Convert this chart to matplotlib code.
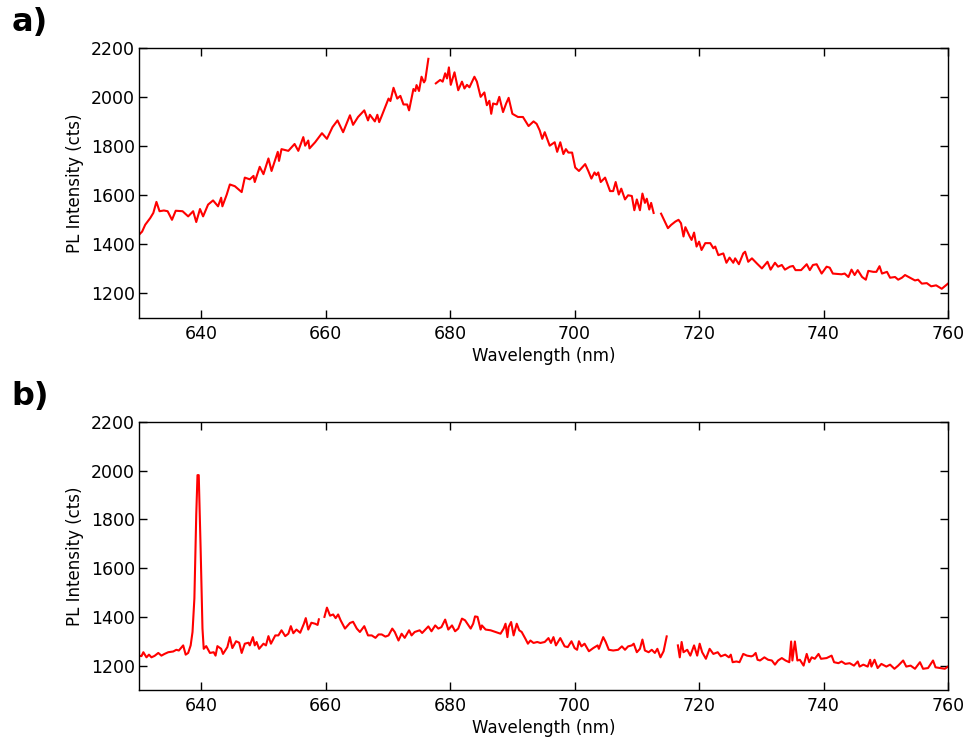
import numpy as np
import matplotlib
matplotlib.use("Agg")
import matplotlib.pyplot as plt

nan = np.nan

# panel a) spectrum (gaps are NaN)
wl_a = [630.0, 630.5, 631.0, 631.8, 632.3, 632.8, 633.3, 634.0, 634.6, 635.3, 635.9, 637.0, 637.9,
        638.7, 639.2, 639.8, 640.3, 641.1, 641.9, 642.7, 643.2, 643.4, 644.1, 644.6, 645.4, 646.5,
        647.0, 647.8, 648.4, 648.6, 649.4, 650.0, 650.8, 651.3, 652.3, 652.5, 652.9, 654.0, 655.0,
        655.6, 656.4, 656.7, 657.2, 657.4, 658.3, 659.4, 660.2, 661.1, 661.9, 662.8, 663.9, 664.4,
        665.2, 666.2, 666.8, 667.1, 667.9, 668.3, 668.6, 669.0, 670.1, 670.4, 670.9, 671.5, 672.0,
        672.5, 673.1, 673.4, 674.1, 674.4, 674.6, 675.0, 675.4, 675.8, 676.0, 676.5, 677.1,
        677.7, 678.4, 678.8, 679.2, 679.5, 679.8, 680.1, 680.7, 681.3, 681.9, 682.3, 682.7, 683.1,
        683.9, 684.3, 684.9, 685.5, 685.9, 686.3, 686.6, 686.9, 687.5, 687.9, 688.5, 689.0, 689.4,
        690.0, 690.9, 691.7, 692.6, 693.4, 693.9, 694.4, 694.8, 695.2, 696.0, 696.8, 697.2, 697.7,
        698.2, 698.6, 699.0, 699.6, 700.1, 700.7, 701.7, 702.2, 702.7, 703.2, 703.5, 703.8, 704.2,
        704.9, 705.7, 706.2, 706.6, 707.1, 707.5, 708.1, 708.6, 709.2, 709.6, 710.0, 710.5, 710.9,
        711.3, 711.6, 712.0, 712.3, 712.7, 713.3,
        713.9, 714.5, 715.0, 715.5, 716.2, 716.7, 717.1, 717.5, 717.8, 718.5, 718.8, 719.2, 719.6,
        720.0, 720.4, 721.0, 721.8, 722.3, 722.6, 723.1, 723.9, 724.4, 724.9, 725.5, 725.8, 726.4,
        727.1, 727.4, 727.9, 728.5, 729.3, 730.1, 731.0, 731.5, 732.2, 732.7, 733.3, 733.8, 734.6,
        735.1, 735.5, 736.4, 737.3, 737.8, 738.3, 738.9, 739.7, 740.5, 741.0, 741.5, 742.9, 743.4,
        744.0, 744.5, 745.0, 745.5, 746.2, 746.8, 747.2, 748.0, 748.5, 749.0, 749.4, 750.2, 750.7,
        751.5, 752.0, 752.6, 753.1, 753.9, 754.7, 755.2, 755.8, 756.6, 757.3, 758.1, 759.0, 760.0]
pl_a = [1439, 1452, 1480, 1507, 1528, 1573, 1535, 1538, 1535, 1500, 1537, 1535, 1514,
        1535, 1491, 1544, 1514, 1562, 1579, 1555, 1590, 1555, 1603, 1644, 1637, 1613,
        1672, 1665, 1679, 1654, 1716, 1686, 1750, 1699, 1777, 1740, 1788, 1781, 1809,
        1781, 1837, 1802, 1823, 1791, 1816, 1853, 1830, 1878, 1905, 1857, 1926, 1887,
        1919, 1946, 1905, 1928, 1901, 1928, 1898, 1923, 1994, 1984, 2038, 1994, 2005,
        1970, 1970, 1946, 2033, 2025, 2049, 2025, 2083, 2060, 2069, 2156, nan,
        2056, 2070, 2063, 2097, 2076, 2121, 2050, 2101, 2028, 2063, 2035, 2050, 2040,
        2083, 2063, 2001, 2019, 1967, 1985, 1932, 1974, 1970, 2001, 1939, 1974, 1997,
        1932, 1919, 1919, 1882, 1901, 1891, 1864, 1830, 1857, 1802, 1816, 1777, 1816,
        1768, 1788, 1774, 1774, 1713, 1699, 1727, 1699, 1668, 1693, 1682, 1693, 1654,
        1672, 1617, 1617, 1654, 1603, 1627, 1583, 1600, 1597, 1539, 1583, 1539, 1607,
        1569, 1586, 1542, 1569, 1528, nan,
        1525, 1493, 1466, 1479, 1493, 1500, 1486, 1432, 1470, 1432, 1418, 1448, 1391,
        1411, 1377, 1405, 1405, 1384, 1391, 1356, 1363, 1325, 1346, 1325, 1343, 1319,
        1363, 1370, 1329, 1343, 1322, 1302, 1329, 1297, 1325, 1309, 1316, 1297, 1309,
        1312, 1295, 1295, 1319, 1295, 1316, 1319, 1281, 1309, 1305, 1281, 1278, 1281,
        1267, 1297, 1275, 1295, 1267, 1256, 1292, 1288, 1288, 1311, 1281, 1288, 1264,
        1267, 1256, 1264, 1275, 1264, 1253, 1256, 1240, 1242, 1229, 1233, 1219, 1240]

# panel b) spectrum
wl_b = [630.0, 630.4, 630.7, 631.2, 631.6, 632.0, 632.5, 633.1, 633.6, 634.1, 634.7, 635.5, 636.0,
        636.4, 637.1, 637.5, 637.9, 638.3, 638.6, 638.9, 639.2, 639.4, 639.6, 639.9, 640.2, 640.4,
        640.8, 641.4, 642.0, 642.3, 642.6, 643.2, 643.5, 644.2, 644.6, 645.0, 645.6, 646.1, 646.5,
        647.0, 647.6, 647.8, 648.3, 648.6, 648.9, 649.3, 650.0, 650.4, 650.8, 651.2, 651.9, 652.4,
        652.9, 653.5, 654.0, 654.4, 654.8, 655.3, 655.9, 656.5, 656.8, 657.2, 657.7, 658.3, 658.7,
        658.9, 659.4,
        659.8, 660.2, 660.7, 661.2, 661.6, 662.0, 662.4, 663.1, 663.9, 664.4, 665.0, 665.5, 666.2,
        666.8, 667.4, 668.0, 668.5, 669.0, 669.6, 670.1, 670.7, 671.1, 671.7, 672.2, 672.7, 673.4,
        673.8, 674.3, 675.1, 675.5, 676.5, 677.0, 677.6, 678.1, 678.6, 679.2, 679.7, 680.3, 680.8,
        681.3, 681.9, 682.4, 683.3, 683.7, 684.0, 684.4, 684.9, 685.1, 685.7, 686.5, 687.3, 688.1,
        688.6, 688.9, 689.2, 689.4, 689.8, 690.2, 690.7, 691.1, 691.5, 692.1, 692.5, 692.9, 693.4,
        694.0, 694.5, 695.2, 695.8, 696.2, 696.6, 697.0, 697.7, 698.4, 698.9, 699.5, 700.0, 700.4,
        700.7, 701.1, 701.6, 702.3, 703.0, 703.7, 703.9, 704.6, 705.0, 705.5, 706.2, 707.0, 707.6,
        708.1, 708.6, 709.2, 709.5, 710.0, 710.5, 710.9, 711.3, 711.9, 712.4, 712.9, 713.3, 713.8,
        714.3, 714.8, 715.7,
        716.6, 716.9, 717.2, 717.5, 718.1, 718.6, 719.2, 719.7, 720.1, 720.5, 721.1, 721.7, 722.3,
        723.0, 723.5, 724.2, 724.8, 725.1, 725.4, 726.0, 726.5, 727.1, 727.7, 728.4, 728.7, 729.1,
        729.4, 729.8, 730.5, 731.1, 731.7, 732.2, 732.7, 733.3, 733.9, 734.5, 734.8, 735.0, 735.4,
        735.8, 736.2, 736.8, 737.3, 737.7, 738.1, 738.6, 739.2, 739.6, 740.5, 741.3, 741.7, 742.4,
        742.9, 743.5, 744.2, 744.9, 745.5, 745.8, 746.4, 747.1, 747.5, 747.7, 748.2, 748.7, 749.3,
        750.1, 750.7, 751.4, 752.0, 752.8, 753.3, 754.0, 754.7, 755.5, 756.0, 756.8, 757.6, 758.0,
        758.7, 759.5, 760.0]
pl_b = [1241, 1239, 1255, 1234, 1245, 1234, 1240, 1252, 1241, 1248, 1255, 1258, 1265,
        1262, 1283, 1245, 1252, 1283, 1338, 1476, 1820, 1982, 1982, 1682, 1352, 1269,
        1280, 1252, 1255, 1241, 1280, 1269, 1248, 1276, 1317, 1272, 1300, 1294, 1252,
        1290, 1294, 1283, 1317, 1283, 1297, 1269, 1290, 1283, 1321, 1290, 1324, 1324,
        1345, 1321, 1331, 1362, 1333, 1348, 1335, 1372, 1395, 1348, 1376, 1372, 1367,
        1390, nan,
        1400, 1438, 1405, 1410, 1395, 1410, 1386, 1352, 1375, 1380, 1352, 1338, 1362,
        1324, 1324, 1314, 1328, 1328, 1319, 1324, 1352, 1338, 1303, 1331, 1314, 1345,
        1324, 1338, 1345, 1334, 1361, 1341, 1365, 1352, 1358, 1389, 1348, 1365, 1341,
        1352, 1393, 1386, 1352, 1372, 1402, 1400, 1348, 1365, 1348, 1345, 1338, 1331,
        1352, 1372, 1317, 1358, 1379, 1324, 1372, 1345, 1338, 1310, 1290, 1303, 1293,
        1297, 1293, 1297, 1313, 1293, 1317, 1283, 1313, 1279, 1276, 1300, 1272, 1265,
        1300, 1279, 1290, 1259, 1272, 1283, 1269, 1317, 1297, 1265, 1262, 1265, 1279,
        1265, 1279, 1283, 1290, 1255, 1269, 1307, 1262, 1255, 1265, 1252, 1269, 1234,
        1259, 1320, nan,
        1283, 1234, 1297, 1255, 1265, 1241, 1283, 1241, 1290, 1255, 1228, 1269, 1248,
        1255, 1238, 1245, 1234, 1245, 1214, 1217, 1214, 1248, 1241, 1238, 1241, 1252,
        1224, 1221, 1234, 1224, 1221, 1204, 1221, 1231, 1221, 1214, 1299, 1221, 1299,
        1221, 1224, 1200, 1248, 1214, 1234, 1228, 1248, 1228, 1231, 1241, 1214, 1210,
        1217, 1207, 1210, 1200, 1217, 1196, 1204, 1196, 1224, 1196, 1224, 1190, 1207,
        1196, 1204, 1187, 1200, 1221, 1196, 1200, 1187, 1214, 1187, 1190, 1221, 1193,
        1190, 1187, 1196]

xticks = [640, 660, 680, 700, 720, 740, 760]
yticks = [1200, 1400, 1600, 1800, 2000, 2200]

fig = plt.figure(figsize=(9.68, 7.4), dpi=100)
ax_a = fig.add_axes([0.1436, 0.5703, 0.8357, 0.3648])
ax_b = fig.add_axes([0.1436, 0.0676, 0.8357, 0.3621])

for ax, wl, pl, tag in [(ax_a, wl_a, pl_a, "a)"), (ax_b, wl_b, pl_b, "b)")]:
    ax.plot(wl, pl, color="red", linewidth=1.5)
    ax.set_xlim(630, 760)
    ax.set_ylim(1100, 2200)
    ax.set_xticks(xticks)
    ax.set_yticks(yticks)
    ax.tick_params(direction="in", top=True, right=True, length=6, width=1,
                   labelsize=12.5)
    ax.tick_params(axis="y", pad=3)
    ax.tick_params(axis="x", pad=5)
    ax.set_xlabel("Wavelength (nm)", fontsize=12, labelpad=3)
    ax.set_ylabel("PL Intensity (cts)", fontsize=12, labelpad=5)
    for sp in ax.spines.values():
        sp.set_linewidth(1)
    pos = ax.get_position()
    fig.text(0.012, pos.y1 + 0.055, tag, fontsize=23, fontweight="bold",
             va="top", ha="left")

fig.savefig("out.png", dpi=100)
